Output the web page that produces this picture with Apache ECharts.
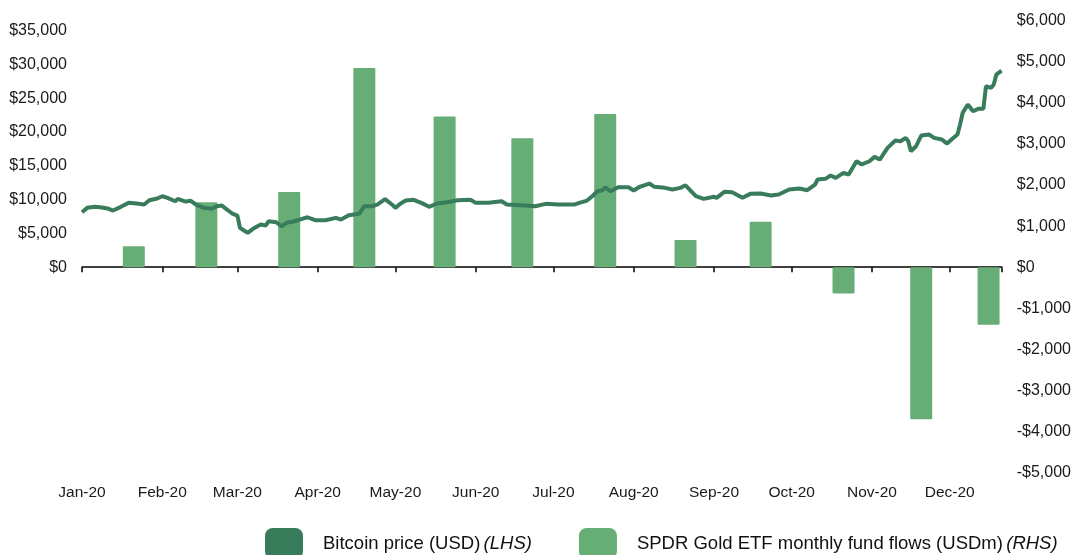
<!DOCTYPE html>
<html>
<head>
<meta charset="utf-8">
<script src="https://cdn.jsdelivr.net/npm/echarts@6/dist/echarts.min.js"></script>
<style>
  html, body { margin: 0; padding: 0; background: #fff; }
  #chart { width: 1074px; height: 555px; }
</style>
</head>
<body>
<div id="chart"></div>
<script>
// Bitcoin price (USD)
const btcDates = [
  '2020-01-01', '2020-01-03', '2020-01-06', '2020-01-08', '2020-01-11', '2020-01-13', '2020-01-16', '2020-01-19',
  '2020-01-23', '2020-01-25', '2020-01-27', '2020-01-30', '2020-02-01', '2020-02-03', '2020-02-06', '2020-02-07',
  '2020-02-10', '2020-02-12', '2020-02-14', '2020-02-17', '2020-02-20', '2020-02-22', '2020-02-24', '2020-02-26',
  '2020-02-28', '2020-03-01', '2020-03-02', '2020-03-04', '2020-03-05', '2020-03-07', '2020-03-10', '2020-03-12',
  '2020-03-13', '2020-03-16', '2020-03-18', '2020-03-20', '2020-03-23', '2020-03-26', '2020-03-28', '2020-03-31',
  '2020-04-04', '2020-04-08', '2020-04-10', '2020-04-13', '2020-04-17', '2020-04-19', '2020-04-22', '2020-04-24',
  '2020-04-27', '2020-04-30', '2020-05-01', '2020-05-03', '2020-05-05', '2020-05-08', '2020-05-11', '2020-05-14',
  '2020-05-17', '2020-05-21', '2020-05-25', '2020-05-30', '2020-06-01', '2020-06-06', '2020-06-11', '2020-06-13',
  '2020-06-20', '2020-06-24', '2020-06-28', '2020-07-03', '2020-07-09', '2020-07-11', '2020-07-14', '2020-07-16',
  '2020-07-18', '2020-07-20', '2020-07-21', '2020-07-23', '2020-07-26', '2020-07-30', '2020-08-01', '2020-08-03',
  '2020-08-07', '2020-08-09', '2020-08-13', '2020-08-16', '2020-08-19', '2020-08-21', '2020-08-25', '2020-08-28',
  '2020-09-01', '2020-09-02', '2020-09-05', '2020-09-08', '2020-09-12', '2020-09-15', '2020-09-19', '2020-09-23',
  '2020-09-26', '2020-09-30', '2020-10-04', '2020-10-07', '2020-10-10', '2020-10-11', '2020-10-14', '2020-10-16',
  '2020-10-18', '2020-10-21', '2020-10-23', '2020-10-26', '2020-10-28', '2020-10-31', '2020-11-02', '2020-11-04',
  '2020-11-07', '2020-11-10', '2020-11-12', '2020-11-14', '2020-11-15', '2020-11-16', '2020-11-18', '2020-11-20',
  '2020-11-23', '2020-11-25', '2020-11-28', '2020-11-30', '2020-12-02', '2020-12-04', '2020-12-05', '2020-12-06',
  '2020-12-08', '2020-12-10', '2020-12-12', '2020-12-14', '2020-12-15', '2020-12-17', '2020-12-18', '2020-12-19',
  '2020-12-21'
]
const btcPrice = [
  8130, 8780, 8930, 8870, 8680, 8380, 8930, 9520,
  9370, 9270, 9910, 10160, 10500, 10260, 9760, 10110,
  9710, 9820, 9270, 8780, 8640, 9020, 9120, 8530,
  7940, 7640, 5830, 5320, 5090, 5680, 6310, 6170,
  6800, 6650, 6060, 6570, 6800, 7160, 7390, 6950,
  6950, 7300, 7050, 7690, 7900, 9020, 9020, 9270,
  10060, 9170, 8780, 9420, 9860, 9970, 9520, 8930,
  9420, 9610, 9910, 9970, 9520, 9520, 9760, 9270,
  9120, 9020, 9370, 9270, 9270, 9520, 9860, 10500,
  11240, 11390, 11830, 11240, 11830, 11830, 11340, 11830,
  12380, 11890, 11740, 11490, 11740, 12120, 10500, 10110,
  10410, 10260, 11150, 11090, 10260, 10850, 10900, 10600,
  10750, 11490, 11640, 11390, 12230, 12970, 13070, 13560,
  13220, 13960, 13710, 15670, 15190, 15670, 16320, 15920,
  17650, 18730, 18630, 19130, 18630, 17150, 17890, 19470,
  19620, 19130, 18880, 18290, 18990, 19620, 21100, 22830,
  24060, 23070, 23420, 23420, 26760, 26530, 27020, 28490,
  29080
]

// SPDR Gold ETF monthly fund flows (USDm)
const flowDates = ['2020-01-21', '2020-02-18', '2020-03-21', '2020-04-19', '2020-05-20', '2020-06-19',
  '2020-07-21', '2020-08-21', '2020-09-19', '2020-10-21', '2020-11-20', '2020-12-16']
const flowValues = [510, 1580, 1830, 4850, 3670, 3140, 3730, 665, 1110, -640, -3700, -1400]

const monthNames = ['Jan', 'Feb', 'Mar', 'Apr', 'May', 'Jun', 'Jul', 'Aug', 'Sep', 'Oct', 'Nov', 'Dec']
const leftTicks = [0, 5000, 10000, 15000, 20000, 25000, 30000, 35000]

const font = 'Liberation Sans, Arial, sans-serif'
// dates -> local timestamps, the x axis is a plain value axis in ms
const ts = s => {
  const p = s.split('-').map(Number)
  return new Date(p[0], p[1] - 1, p[2]).getTime()
}
const monthStarts = monthNames.map((m, i) => new Date(2020, i, 1).getTime())
const xMin = new Date(2020, 0, 1).getTime()
const xMax = new Date(2020, 11, 21, 2).getTime()

const money = v => (v < 0 ? '-$' : '$') + Math.abs(v).toLocaleString('en-US')

const chart = echarts.init(document.getElementById('chart'))
chart.setOption({
  animation: false,
  textStyle: { fontFamily: font },
  grid: { left: 82, right: 72, top: 20.7, bottom: 82.3 },
  legend: {
    left: 260,
    top: 523,
    itemWidth: 38,
    itemHeight: 31,
    itemGap: 47,
    icon: 'roundRect',
    data: ['Bitcoin price (USD)', 'SPDR Gold ETF monthly fund flows (USDm)'],
    formatter: name => name === 'Bitcoin price (USD)'
      ? '{n|' + name + '} {i|(LHS)}'
      : '{n|' + name + '} {i|(RHS)}',
    textStyle: {
      padding: [0, 0, 0, 15],
      rich: {
        n: { fontSize: 18.5, color: '#111', fontFamily: font },
        i: { fontSize: 18.5, color: '#111', fontStyle: 'italic', fontFamily: font }
      }
    }
  },
  xAxis: [
    {
      type: 'value',
      min: xMin,
      max: xMax,
      position: 'bottom',
      axisLine: { show: false, onZero: false },
      axisTick: { show: false },
      splitLine: { show: false },
      axisLabel: {
        customValues: monthStarts,
        margin: 12,
        fontSize: 15.5,
        color: '#1a1a1a',
        formatter: v => monthNames[new Date(v).getMonth()] + '-20'
      }
    },
    {
      type: 'value',
      min: xMin,
      max: xMax,
      position: 'top',
      axisLine: { show: true, onZero: true, onZeroAxisIndex: 0, lineStyle: { color: '#000', width: 1.5 } },
      axisTick: { show: true, inside: true, length: 5, customValues: monthStarts.concat([xMax]), lineStyle: { color: '#000', width: 1.5 } },
      axisLabel: { show: false },
      splitLine: { show: false }
    }
  ],
  yAxis: [
    {
      type: 'value',
      position: 'left',
      min: -30385,
      max: 36456,
      axisLine: { show: false },
      axisTick: { show: false },
      splitLine: { show: false },
      axisLabel: {
        customValues: leftTicks,
        margin: 15,
        fontSize: 16,
        color: '#1a1a1a',
        formatter: money
      }
    },
    {
      type: 'value',
      position: 'right',
      min: -5000,
      max: 6000,
      interval: 1000,
      axisLine: { show: false },
      axisTick: { show: false },
      splitLine: { show: false },
      axisLabel: {
        margin: 15,
        fontSize: 16,
        color: '#1a1a1a',
        formatter: money
      }
    }
  ],
  series: [
    {
      name: 'SPDR Gold ETF monthly fund flows (USDm)',
      type: 'bar',
      xAxisIndex: 0,
      yAxisIndex: 1,
      barWidth: 22,
      itemStyle: { color: '#67ae76', borderRadius: 1 },
      data: flowDates.map((d, i) => [ts(d), flowValues[i]])
    },
    {
      name: 'Bitcoin price (USD)',
      type: 'line',
      xAxisIndex: 0,
      yAxisIndex: 0,
      showSymbol: false,
      symbol: 'none',
      lineStyle: { color: '#387c5c', width: 4 },
      itemStyle: { color: '#387c5c' },
      data: btcDates.map((d, i) => [ts(d), btcPrice[i]])
    }
  ]
})
</script>
</body>
</html>
